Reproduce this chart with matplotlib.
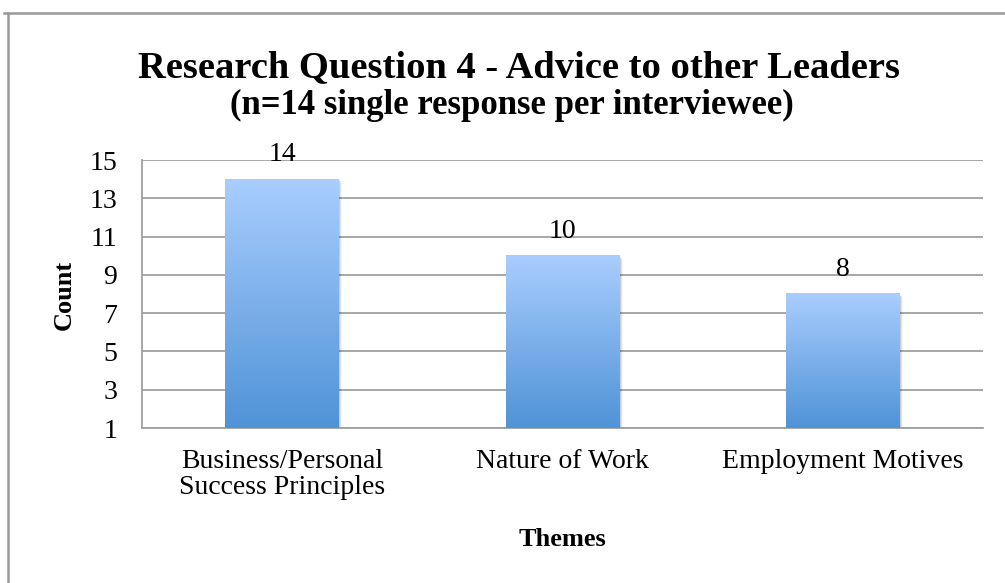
import numpy as np
import matplotlib.pyplot as plt
from matplotlib.lines import Line2D
from matplotlib.colors import LinearSegmentedColormap

plt.rcParams['font.family'] = ['Liberation Serif', 'DejaVu Serif']

categories = ["Business/Personal\nSuccess Principles", "Nature of Work", "Employment Motives"]
counts = [14, 10, 8]
yticks = [1, 3, 5, 7, 9, 11, 13, 15]

W, H = 1005, 583
fig = plt.figure(figsize=(W / 100, H / 100), dpi=100)
ax = fig.add_axes([142 / W, 1 - 428 / H, 841 / W, 268 / H])

ymin, ymax = 1, 15
grid_c = '#a0a0a0'
cmap = LinearSegmentedColormap.from_list('bar', ['#4f93d7', '#a9cdfe'])
grad = np.linspace(1, 0, 256).reshape(-1, 1)
bw = 0.406

x = np.arange(len(categories))
for xi, v in zip(x, counts):
    # soft shadow
    for k, a in enumerate([0.10, 0.07, 0.04]):
        off = 0.004 * (k + 1)
        ax.bar(xi + off, v - ymin, bottom=ymin - 0.06 * (k + 1), width=bw,
               color='#000000', alpha=a, zorder=2, linewidth=0)
    ax.imshow(grad, extent=[xi - bw / 2, xi + bw / 2, ymin, v], aspect='auto',
              cmap=cmap, zorder=3, interpolation='bilinear')
    ax.text(xi, v + 0.62, str(v), ha='center', va='bottom', fontsize=20, zorder=4)

ax.set_xlim(-0.5, len(categories) - 0.5)
ax.set_ylim(ymin, ymax)
ax.set_yticks(yticks)
ax.set_xticks(x)
ax.set_xticklabels(categories, fontsize=20, linespacing=1.08)
ax.tick_params(axis='y', length=0, pad=18, labelsize=20)
ax.tick_params(axis='x', length=0, pad=15)
ax.yaxis.grid(True, color=grid_c, linewidth=1.3)
ax.set_axisbelow(True)
for s in ['top', 'right']:
    ax.spines[s].set_visible(False)
for s in ['left', 'bottom']:
    ax.spines[s].set_color(grid_c)
    ax.spines[s].set_linewidth(1.3)

fig.text(519 / W, 1 - 77 / H, "Research Question 4 - Advice to other Leaders",
         ha='center', va='baseline', fontsize=27.7, fontweight='bold')
fig.text(512 / W, 1 - 114 / H, "(n=14 single response per interviewee)",
         ha='center', va='baseline', fontsize=25, fontweight='bold')
fig.text(64 / W, 1 - 295 / H, "Count", rotation=90, ha='center', va='center',
         fontsize=19, fontweight='bold')
fig.text(562 / W, 1 - 540 / H, "Themes", ha='center', va='center',
         fontsize=19, fontweight='bold')

# outer chart frame
fig.add_artist(Line2D([4 / W, 1], [1 - 13 / H, 1 - 13 / H], color='#999999', linewidth=1.8))
fig.add_artist(Line2D([7.5 / W, 7.5 / W], [0, 1 - 13 / H], color='#999999', linewidth=1.8))

fig.savefig('out.png', dpi=100)
